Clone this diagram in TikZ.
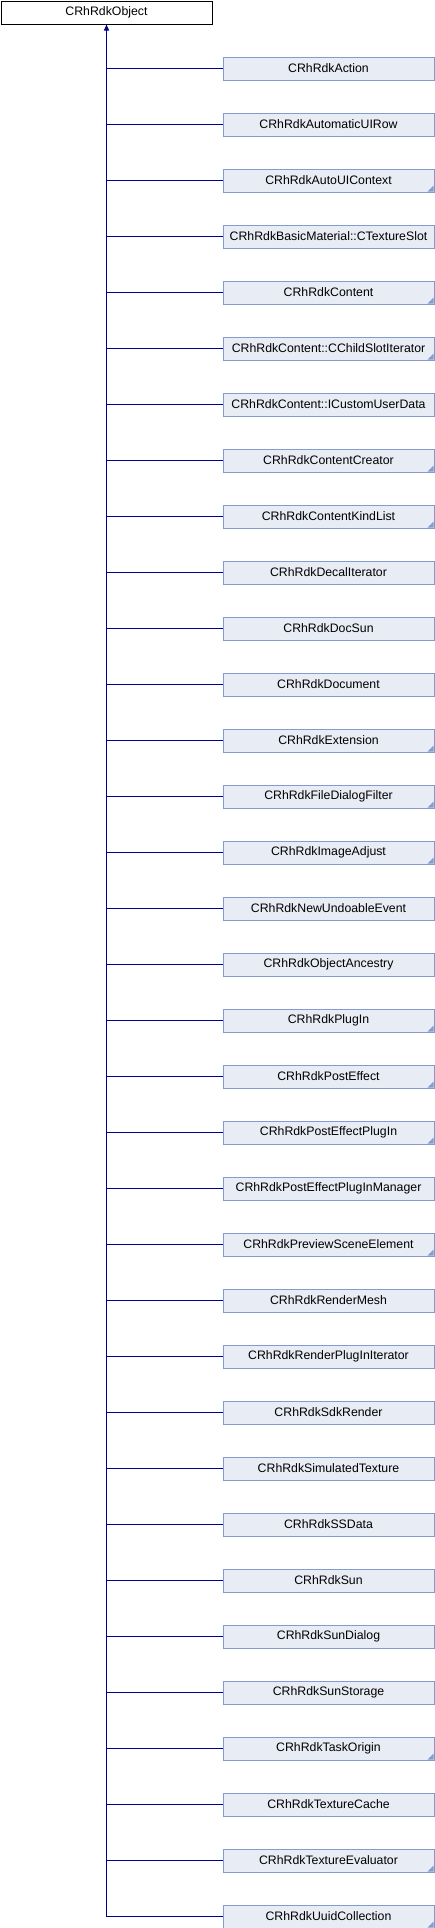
\documentclass[tikz,border=0pt]{standalone}
\usepackage{fontspec}
\setmainfont{Liberation Sans}
\usetikzlibrary{arrows.meta}
\definecolor{boxfill}{RGB}{232,236,244}
\definecolor{boxline}{RGB}{132,155,210}
\definecolor{edgecol}{RGB}{0,0,140}
\begin{document}
\begin{tikzpicture}[x=1pt,y=-1pt,
  font=\fontsize{12.3}{14}\selectfont,
  classbox/.style={draw=boxline, fill=boxfill, line width=1pt, minimum width=211pt, minimum height=23pt, inner sep=0pt, anchor=north west},
  cornerbox/.style={classbox, path picture={\fill[boxline] ([xshift=-0.5pt,yshift=0.5pt]path picture bounding box.south east) -- ++(-6pt,0pt) -- ++(6pt,6pt) -- cycle;}},
  basebox/.style={draw=black, fill=white, line width=1pt, minimum width=211pt, minimum height=23pt, inner sep=0pt, anchor=north west},
  edge/.style={draw=edgecol, line width=1pt},
  inh/.style={edge, -{Triangle[width=5pt,length=6pt]}}]
\useasboundingbox (0,0) rectangle (434,1928);
\node[basebox] (base) at (0.5,0.5) {CRhRdkObject};
\foreach \i/\name/\st in {
  1/CRhRdkAction/classbox,
  2/CRhRdkAutomaticUIRow/classbox,
  3/CRhRdkAutoUIContext/cornerbox,
  4/CRhRdkBasicMaterial::CTextureSlot/classbox,
  5/CRhRdkContent/cornerbox,
  6/CRhRdkContent::CChildSlotIterator/cornerbox,
  7/CRhRdkContent::ICustomUserData/classbox,
  8/CRhRdkContentCreator/cornerbox,
  9/CRhRdkContentKindList/cornerbox,
  10/CRhRdkDecalIterator/classbox,
  11/CRhRdkDocSun/classbox,
  12/CRhRdkDocument/classbox,
  13/CRhRdkExtension/cornerbox,
  14/CRhRdkFileDialogFilter/cornerbox,
  15/CRhRdkImageAdjust/cornerbox,
  16/CRhRdkNewUndoableEvent/classbox,
  17/CRhRdkObjectAncestry/classbox,
  18/CRhRdkPlugIn/cornerbox,
  19/CRhRdkPostEffect/cornerbox,
  20/CRhRdkPostEffectPlugIn/cornerbox,
  21/CRhRdkPostEffectPlugInManager/classbox,
  22/CRhRdkPreviewSceneElement/cornerbox,
  23/CRhRdkRenderMesh/classbox,
  24/CRhRdkRenderPlugInIterator/classbox,
  25/CRhRdkSdkRender/classbox,
  26/CRhRdkSimulatedTexture/classbox,
  27/CRhRdkSSData/classbox,
  28/CRhRdkSun/classbox,
  29/CRhRdkSunDialog/classbox,
  30/CRhRdkSunStorage/classbox,
  31/CRhRdkTaskOrigin/cornerbox,
  32/CRhRdkTextureCache/classbox,
  33/CRhRdkTextureEvaluator/cornerbox,
  34/CRhRdkUuidCollection/cornerbox} {
  \node[\st] (n\i) at (222.5, {56.5+56*(\i-1)}) {\name};
  \coordinate (t\i) at (base.south |- n\i.west);
  \draw[edge] (t\i) -- (n\i.west);
}
\draw[inh] (t34) -- (base.south);
\end{tikzpicture}
\end{document}
